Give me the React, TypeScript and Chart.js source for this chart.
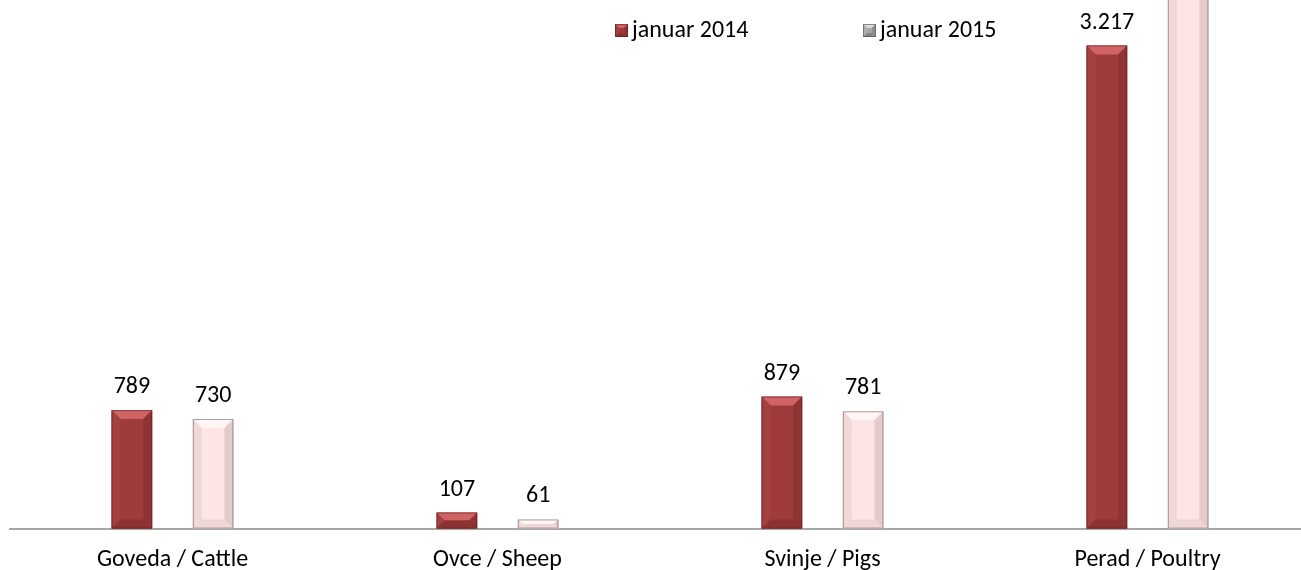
import React, { useEffect, useRef } from "react";
import { Chart, registerables } from "chart.js";

Chart.register(...registerables);

const categories = ["Goveda / Cattle", "Ovce / Sheep", "Svinje / Pigs", "Perad / Poultry"];
const seriesNames = ["januar 2014", "januar 2015"];
const jan2014 = [789, 107, 879, 3217];
const jan2015 = [730, 61, 781, 3600];

const FONT = "Carlito, Lato, 'Noto Sans', sans-serif";
const FS = 24;

const fmt = (v: number) => String(v).replace(/\B(?=(\d{3})+(?!\d))/g, ".");

type Pal = { base: string; top: string; left: string; right: string; bottom: string; edge: string };
const palettes: Pal[] = [
  { base: "#9E3B3B", top: "#D06464", left: "#A44040", right: "#8F3434", bottom: "#8C3232", edge: "rgba(90,20,20,0.5)" },
  { base: "#FDE5E5", top: "#FFF5F5", left: "#F1D8D8", right: "#E4CACA", bottom: "#F0D6D6", edge: "rgba(110,100,100,0.6)" },
];
const legendPalettes: Pal[] = [
  palettes[0],
  { base: "#A6A6A6", top: "#D9D9D9", left: "#AFAFAF", right: "#8E8E8E", bottom: "#858585", edge: "rgba(80,80,80,0.6)" },
];

function bevel(ctx: CanvasRenderingContext2D, l: number, t: number, r: number, b: number, p: Pal, size: number) {
  const w = r - l;
  const h = b - t;
  const s = Math.max(1, Math.min(size, w / 2, h / 2));
  ctx.fillStyle = p.base;
  ctx.fillRect(l, t, w, h);
  const poly = (pts: number[][], c: string) => {
    ctx.beginPath();
    ctx.moveTo(pts[0][0], pts[0][1]);
    for (let i = 1; i < pts.length; i++) ctx.lineTo(pts[i][0], pts[i][1]);
    ctx.closePath();
    ctx.fillStyle = c;
    ctx.fill();
  };
  poly([[l, t], [r, t], [r - s, t + s], [l + s, t + s]], p.top);
  poly([[l, t], [l + s, t + s], [l + s, b - s], [l, b]], p.left);
  poly([[r, t], [r, b], [r - s, b - s], [r - s, t + s]], p.right);
  poly([[l, b], [l + s, b - s], [r - s, b - s], [r, b]], p.bottom);
  ctx.strokeStyle = p.edge;
  ctx.lineWidth = 1;
  ctx.strokeRect(l + 0.5, t + 0.5, w - 1, h - 1);
}

const bevelPlugin = {
  id: "bevelBars",
  afterDatasetsDraw(chart: any) {
    const ctx: CanvasRenderingContext2D = chart.ctx;
    ctx.save();
    chart.data.datasets.forEach((ds: any, di: number) => {
      const meta = chart.getDatasetMeta(di);
      meta.data.forEach((bar: any, i: number) => {
        const { x, y, base, width } = bar.getProps(["x", "y", "base", "width"], true);
        const l = x - width / 2;
        const r = x + width / 2;
        const top = Math.max(y, -20);
        bevel(ctx, l, top, r, base, palettes[di], 9);
        ctx.fillStyle = "#000";
        ctx.font = `${FS}px ${FONT}`;
        ctx.textAlign = "center";
        ctx.textBaseline = "alphabetic";
        ctx.fillText(fmt(ds.data[i]), x, y - 17);
      });
    });
    // legend
    const items = [
      { mx: 615, tx: 632 },
      { mx: 863, tx: 880 },
    ];
    items.forEach((it, di) => {
      bevel(ctx, it.mx, 24, it.mx + 13, 37, legendPalettes[di], 4);
      ctx.fillStyle = "#000";
      ctx.font = `${FS}px ${FONT}`;
      ctx.textAlign = "left";
      ctx.textBaseline = "middle";
      ctx.fillText(chart.data.datasets[di].label, it.tx, 31);
    });
    ctx.restore();
  },
};

export default function App() {
  const ref = useRef<HTMLCanvasElement | null>(null);
  useEffect(() => {
    if (!ref.current) return;
    const chart = new Chart(ref.current, {
      type: "bar",
      data: {
        labels: categories,
        datasets: [
          { label: seriesNames[0], data: jan2014, backgroundColor: "rgba(0,0,0,0)", borderWidth: 0, clip: false as any },
          { label: seriesNames[1], data: jan2015, backgroundColor: "rgba(0,0,0,0)", borderWidth: 0, clip: false as any },
        ],
      },
      options: {
        responsive: false,
        animation: false,
        devicePixelRatio: 1,
        categoryPercentage: 0.5,
        barPercentage: 0.5,
        layout: { padding: { left: 10, right: 2, top: 0, bottom: 0 } },
        plugins: { legend: { display: false }, tooltip: { enabled: false } },
        scales: {
          x: {
            grid: { display: false, drawTicks: false },
            border: { display: true, color: "#A6A6A6", width: 2 },
            ticks: { color: "#000", font: { family: FONT, size: FS }, padding: 17 },
            afterFit: (s: any) => {
              s.height = 41.4;
            },
          },
          y: { display: false, min: 0, max: 3520 },
        },
      } as any,
      plugins: [bevelPlugin],
    });
    return () => chart.destroy();
  }, []);
  return (
    <div style={{ position: "fixed", left: 0, top: 0, width: 1301, height: 570, overflow: "hidden", background: "#fff" }}>
      <canvas ref={ref} width={1312} height={570} style={{ display: "block" }} />
    </div>
  );
}
